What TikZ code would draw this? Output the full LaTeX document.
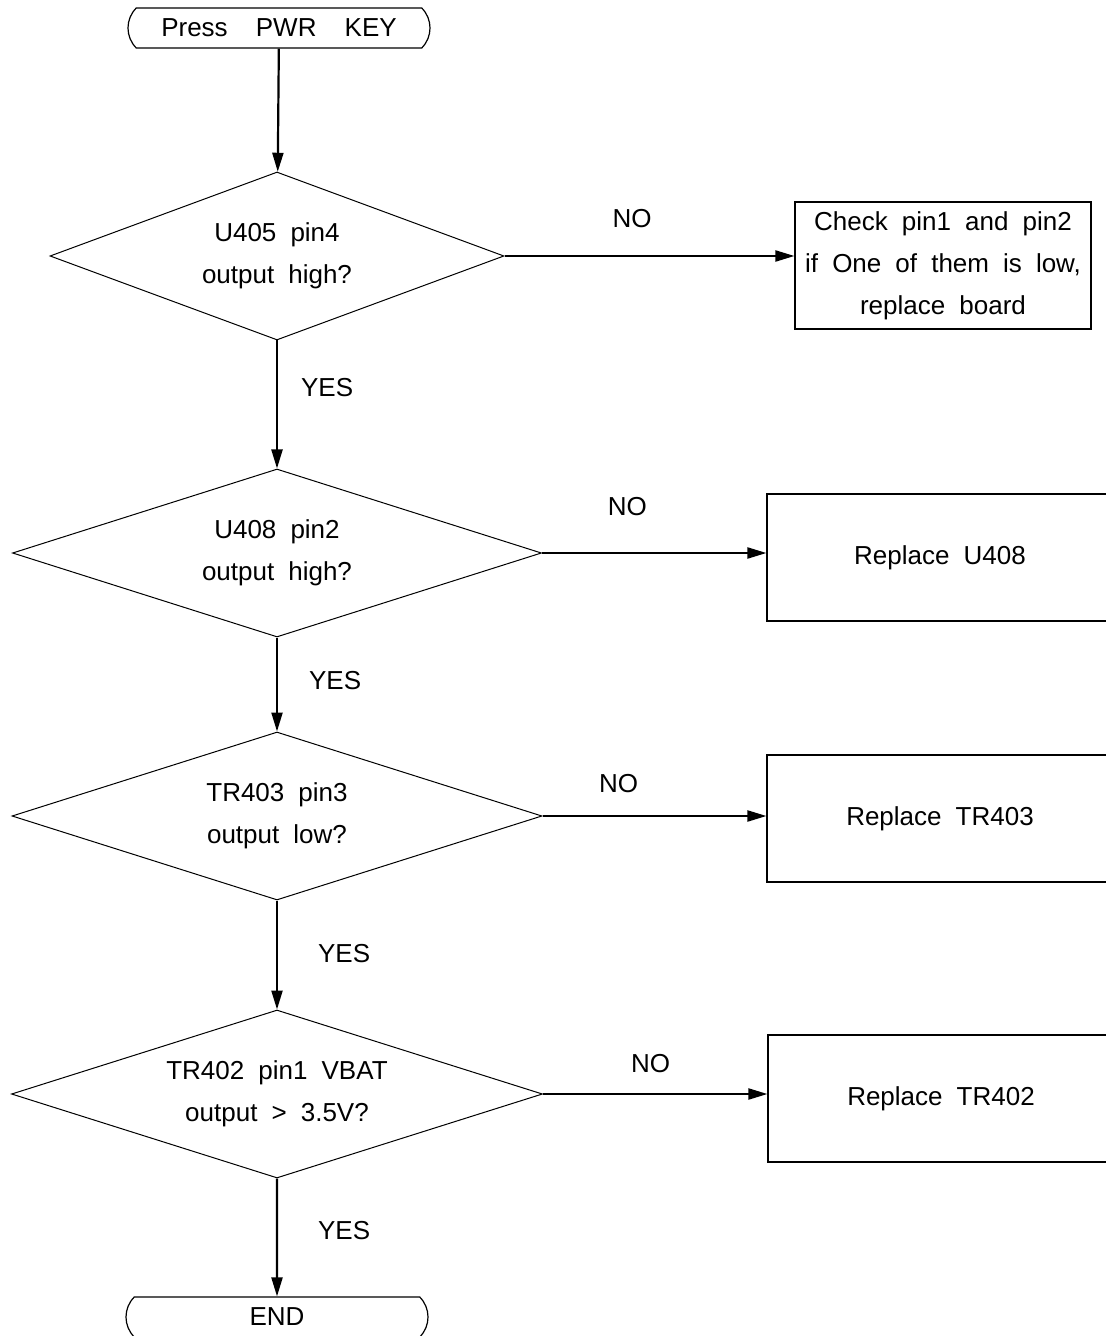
\documentclass[tikz,border=0pt]{standalone}
\usepackage{fontspec}
\setmainfont{Liberation Sans}[WordSpace=1.95]
\usetikzlibrary{shapes.geometric,shapes.misc,arrows.meta}
\begin{document}
\begin{tikzpicture}[x=0.5pt, y=-0.5pt,
  every node/.style={font=\fontsize{13}{21}\selectfont},
  term/.style={rounded rectangle, rounded rectangle arc length=90, draw, line width=0.6pt,
    minimum width=151pt, minimum height=20pt, inner sep=0pt},
  test/.style={diamond, draw, line width=0.5pt, minimum width=#1, minimum height=84pt,
    aspect=3, inner sep=0pt, align=center},
  fixbox/.style={rectangle, draw, line width=0.6pt, minimum width=#1, minimum height=63.5pt,
    inner sep=0pt, align=center},
  flow/.style={-{Triangle[length=9.5pt,width=5.5pt]}, line width=1.1pt},
  lbl/.style={inner sep=0pt}]
\clip (0,0) rectangle (1106,1336);
% start and the four checks
\node [term] (start) at (279,28) {Press\ \ PWR\ \ KEY};
\node [test=227pt] (d1) at (277,256) {U405 pin4\\output high?};
\node [test=264.5pt] (d2) at (277,553) {U408 pin2\\output high?};
\node [test=265pt] (d3) at (277,816) {TR403 pin3\\output low?};
\node [test=265.5pt] (d4) at (277,1094) {TR402 pin1 VBAT\\output > 3.5V?};
\node [term] (end) at (277,1317) {END};
% what to do on NO
\node [fixbox=148pt] (b1) at (943,265.5) {Check pin1 and pin2\\if One of them is low,\\replace board};
\node [fixbox=173pt] (b2) at (940,557.5) {Replace U408};
\node [fixbox=173pt] (b3) at (940,818.5) {Replace TR403};
\node [fixbox=173pt] (b4) at (941,1098.5) {Replace TR402};
% YES path
\draw [flow] (start) -- (d1);
\draw [flow] (d1) -- node[lbl, pos=.37, right=11.5pt] (yes1) {YES} (d2);
\draw [flow] (d2) -- node[lbl, pos=.46, right=15.5pt] (yes2) {YES} (d3);
\draw [flow] (d3) -- node[lbl, pos=.49, right=20pt] (yes3) {YES} (d4);
\draw [flow] (d4) -- node[lbl, pos=.44, right=20pt] (yes4) {YES} (end);
% NO path
\draw [flow] (d1.east) -- node[lbl, pos=.44, above=13.5pt] (no1) {NO} (d1.east -| b1.west);
\draw [flow] (d2.east) -- node[lbl, pos=.38, above=18pt] (no2) {NO} (d2.east -| b2.west);
\draw [flow] (d3.east) -- node[lbl, pos=.34, above=11pt] (no3) {NO} (d3.east -| b3.west);
\draw [flow] (d4.east) -- node[lbl, pos=.48, above=10pt] (no4) {NO} (d4.east -| b4.west);
\end{tikzpicture}
\end{document}
